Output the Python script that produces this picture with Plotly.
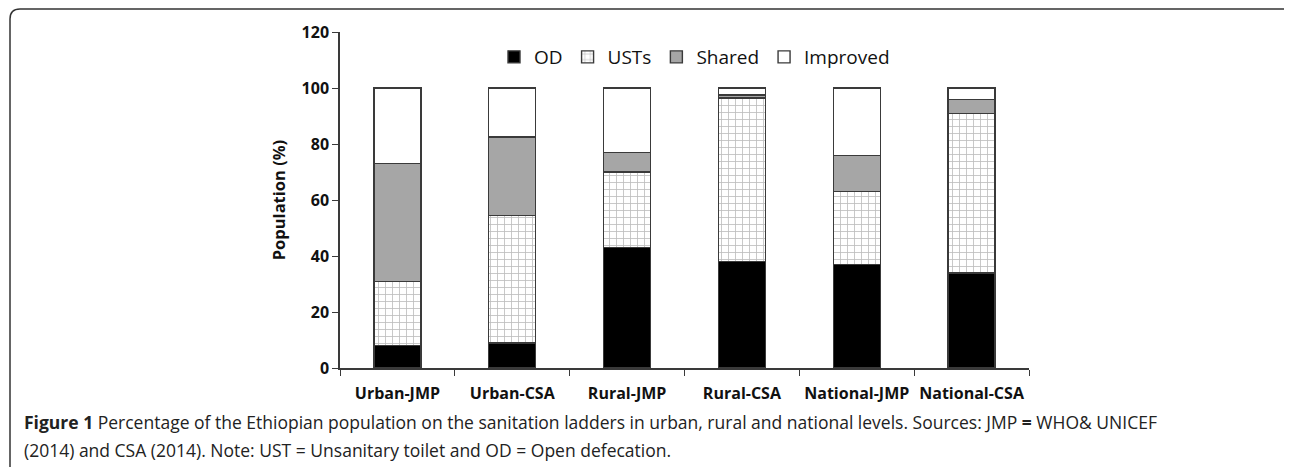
import plotly.graph_objects as go

categories = ["Urban-JMP", "Urban-CSA", "Rural-JMP", "Rural-CSA", "National-JMP", "National-CSA"]
od = [8, 9, 43, 38, 37, 34]
usts = [23, 45.5, 27, 58.5, 26, 57]
shared = [42, 28, 7, 1, 13, 5]
improved = [27, 17.5, 23, 2.5, 24, 4]
y_ticks = [0, 20, 40, 60, 80, 100, 120]

OFF = 8  # default page body margin
W, H = 1284, 463
ML, MR, MT, MB = 332, 263, 24, 103
PW, PH = W - ML - MR, H - MT - MB


def px(x):
    return (x - OFF - ML) / PW


def py(y):
    return (H - MB - (y - OFF)) / PH


line = dict(color="#3a3a3a", width=1.4)
fig = go.Figure()
fig.add_trace(go.Bar(name="OD", x=categories, y=od, marker=dict(color="black", line=line)))
fig.add_trace(go.Bar(name="USTs", x=categories, y=usts,
                     marker=dict(color="white", line=line,
                                 pattern=dict(shape="+", fgcolor="#7a7a7a", bgcolor="white",
                                              size=7, solidity=0.22))))
fig.add_trace(go.Bar(name="Shared", x=categories, y=shared, marker=dict(color="#a6a6a6", line=line)))
fig.add_trace(go.Bar(name="Improved", x=categories, y=improved, marker=dict(color="white", line=line)))

path = (f"M {px(10)},{py(467)} L {px(10)},{py(19)} Q {px(10)},{py(9)} {px(20)},{py(9)} "
        f"L {px(1286)},{py(9)} Q {px(1290)},{py(9)} {px(1291)},{py(13)}")

tick_font = dict(size=16, family="Open Sans", color="#111111", weight="bold")
cap_font = dict(size=17.5, family="Open Sans", color="#222222")

fig.update_layout(
    width=W, height=H,
    margin=dict(l=ML, r=MR, t=MT, b=MB),
    barmode="stack", bargap=0.59,
    plot_bgcolor="white", paper_bgcolor="white",
    font=dict(family="Open Sans", color="#111111"),
    showlegend=True,
    legend=dict(orientation="h", x=px(494), y=py(57), xanchor="left", yanchor="middle",
                traceorder="normal", font=dict(size=19, family="Open Sans", color="#111111"),
                bgcolor="rgba(0,0,0,0)", itemwidth=30),
    xaxis=dict(showline=True, linecolor="#3a3a3a", linewidth=1.5, ticks="outside",
               tickson="boundaries", ticklen=6, tickcolor="#3a3a3a", tickwidth=1.3,
               tickangle=0, tickfont=tick_font, ticklabelstandoff=10,
               showgrid=False, zeroline=False),
    yaxis=dict(range=[0, 120], tickvals=y_ticks, showline=True, linecolor="#3a3a3a",
               linewidth=1.5, ticks="outside", ticklen=6, tickcolor="#3a3a3a", tickwidth=1.3,
               tickfont=tick_font, showgrid=False, zeroline=False,
               title=dict(text="<b>Population (%)</b>", standoff=12,
                          font=dict(size=16.5, family="Open Sans", color="#111111"))),
    shapes=[dict(type="path", xref="paper", yref="paper", path=path,
                 line=dict(color="#333333", width=1.5))],
    annotations=[
        dict(xref="paper", yref="paper", x=px(22), y=py(422), xanchor="left", yanchor="middle",
             showarrow=False, align="left", font=cap_font,
             text="<b>Figure 1</b> Percentage of the Ethiopian population on the sanitation ladders in urban, rural and national levels. Sources: JMP <b>=</b> WHO&amp; UNICEF"),
        dict(xref="paper", yref="paper", x=px(22), y=py(450), xanchor="left", yanchor="middle",
             showarrow=False, align="left", font=cap_font,
             text="(2014) and CSA (2014). Note: UST = Unsanitary toilet and OD = Open defecation."),
    ],
)

fig.write_html("out.html")
